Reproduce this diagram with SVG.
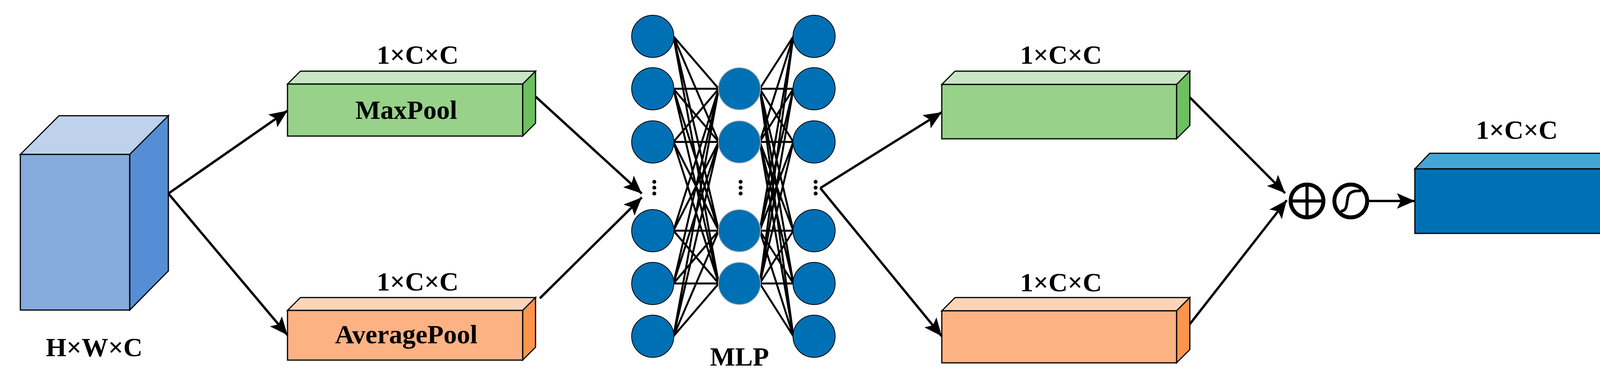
<svg xmlns="http://www.w3.org/2000/svg" width="4196" height="977" viewBox="0 0 4196 977">
<style>
.e{stroke:#000;stroke-width:3;stroke-linejoin:miter}
.t{font-family:"Liberation Serif",serif;font-weight:bold;font-size:68px;text-anchor:middle;fill:#000}
.c{stroke:#000;stroke-width:6;fill:none}
.n{fill:#0070B5;stroke:#000;stroke-width:2}
.nm{fill:#0070B5;stroke:#bbb;stroke-width:2}
.w{stroke:#000;stroke-width:5}
</style>
<defs>
<marker id="a" markerUnits="userSpaceOnUse" markerWidth="50" markerHeight="40" refX="46" refY="20" orient="auto"><path d="M0,0 L46,20 L0,40 L10,20 Z" fill="#000"/></marker>
</defs>
<rect width="4196" height="977" fill="#fff"/>
<g id="input">
<polygon class="e" points="52,395 151,296 431,296 332,395" fill="#BED2EE"/>
<polygon class="e" points="332,395 431,296 431,693 332,793" fill="#558ED5"/>
<rect class="e" x="52" y="395" width="280" height="398" fill="#86AADC"/>
<text class="t" x="241" y="911">H×W×C</text>
</g>
<g id="maxpool">
<polygon class="e" points="736,215 769,182 1371,182 1338,215" fill="#C8E6C4"/>
<polygon class="e" points="1338,215 1371,182 1371,315 1338,348" fill="#6DC05E"/>
<rect class="e" x="736" y="215" width="602" height="133" fill="#97D18A"/>
<text class="t" x="1069" y="163">1×C×C</text>
<text class="t" x="1040" y="304">MaxPool</text>
</g>
<g id="avgpool">
<polygon class="e" points="736,794 769,761 1371,761 1338,794" fill="#FED4B9"/>
<polygon class="e" points="1338,794 1371,761 1371,888 1338,921" fill="#FD944C"/>
<rect class="e" x="736" y="794" width="602" height="127" fill="#FDB284"/>
<text class="t" x="1069" y="743">1×C×C</text>
<text class="t" x="1040" y="878">AveragePool</text>
</g>
<g id="mlp">
<g class="w">
<path d="M1724,93 L1840,227 M1724,93 L1840,363 M1724,93 L1840,590 M1724,93 L1840,725
M1724,227 L1840,227 M1724,227 L1840,363 M1724,227 L1840,590 M1724,227 L1840,725
M1724,363 L1840,227 M1724,363 L1840,363 M1724,363 L1840,590 M1724,363 L1840,725
M1724,590 L1840,227 M1724,590 L1840,363 M1724,590 L1840,590 M1724,590 L1840,725
M1724,725 L1840,227 M1724,725 L1840,363 M1724,725 L1840,590 M1724,725 L1840,725
M1724,860 L1840,227 M1724,860 L1840,363 M1724,860 L1840,590 M1724,860 L1840,725
M1945,227 L2031,93 M1945,227 L2031,227 M1945,227 L2031,363 M1945,227 L2031,590 M1945,227 L2031,725 M1945,227 L2031,860
M1945,363 L2031,93 M1945,363 L2031,227 M1945,363 L2031,363 M1945,363 L2031,590 M1945,363 L2031,725 M1945,363 L2031,860
M1945,590 L2031,93 M1945,590 L2031,227 M1945,590 L2031,363 M1945,590 L2031,590 M1945,590 L2031,725 M1945,590 L2031,860
M1945,725 L2031,93 M1945,725 L2031,227 M1945,725 L2031,363 M1945,725 L2031,590 M1945,725 L2031,725 M1945,725 L2031,860"/>
</g>
<circle class="n" cx="1671" cy="93" r="54"/><circle class="n" cx="1671" cy="227" r="54"/><circle class="n" cx="1671" cy="363" r="54"/>
<circle class="n" cx="1671" cy="590" r="54"/><circle class="n" cx="1671" cy="725" r="54"/><circle class="n" cx="1671" cy="860" r="54"/>
<circle class="nm" cx="1893" cy="227" r="54"/><circle class="nm" cx="1893" cy="363" r="54"/><circle class="nm" cx="1893" cy="590" r="54"/><circle class="nm" cx="1893" cy="725" r="54"/>
<circle class="n" cx="2084" cy="93" r="54"/><circle class="n" cx="2084" cy="227" r="54"/><circle class="n" cx="2084" cy="363" r="54"/>
<circle class="n" cx="2084" cy="590" r="54"/><circle class="n" cx="2084" cy="725" r="54"/><circle class="n" cx="2084" cy="860" r="54"/>
<g fill="#000">
<circle cx="1675" cy="465" r="5"/><circle cx="1675" cy="480" r="5"/><circle cx="1675" cy="495" r="5"/>
<circle cx="1896" cy="465" r="5"/><circle cx="1896" cy="480" r="5"/><circle cx="1896" cy="495" r="5"/>
<circle cx="2088" cy="465" r="5"/><circle cx="2088" cy="480" r="5"/><circle cx="2088" cy="495" r="5"/>
</g>
<text class="t" x="1893" y="935">MLP</text>
</g>
<g id="fc1">
<polygon class="e" points="2411,216 2445,182 3046,182 3012,216" fill="#C8E6C4"/>
<polygon class="e" points="3012,216 3046,182 3046,321 3012,355" fill="#6DC05E"/>
<rect class="e" x="2411" y="216" width="601" height="139" fill="#97D18A"/>
<text class="t" x="2716" y="163">1×C×C</text>
</g>
<g id="fc2">
<polygon class="e" points="2411,795 2445,761 3046,761 3012,795" fill="#FED4B9"/>
<polygon class="e" points="3012,795 3046,761 3046,894 3012,928" fill="#FD944C"/>
<rect class="e" x="2411" y="795" width="601" height="133" fill="#FDB284"/>
<text class="t" x="2716" y="745">1×C×C</text>
</g>
<g id="add">
<circle cx="3346" cy="514" r="42" fill="#fff" stroke="#000" stroke-width="10"/>
<path d="M3346,476 V552 M3308,514 H3384" stroke="#000" stroke-width="8"/>
</g>
<g id="sigmoid">
<circle cx="3458" cy="514" r="42" fill="#fff" stroke="#000" stroke-width="10"/>
<path d="M3432,540 C3452,540 3446,514 3452,500 C3458,488 3470,488 3484,488" fill="none" stroke="#000" stroke-width="7"/>
</g>
<g id="output">
<polygon class="e" points="3622,432 3660,392 4140,392 4102,432" fill="#44A6D8"/>
<polygon class="e" points="4102,432 4140,392 4140,556 4102,597" fill="#005A8F"/>
<rect class="e" x="3622" y="432" width="480" height="165" fill="#0070B5"/>
<text class="t" x="3883" y="355">1×C×C</text>
</g>
<g id="connectors">
<path class="c" d="M431,495 L736,283" marker-end="url(#a)"/>
<path class="c" d="M431,495 L736,857" marker-end="url(#a)"/>
<path class="c" d="M1371,247 L1643,495" marker-end="url(#a)"/>
<path class="c" d="M1382,763 L1643,505" marker-end="url(#a)"/>
<path class="c" d="M2100,481 L2411,287" marker-end="url(#a)"/>
<path class="c" d="M2100,481 L2411,860" marker-end="url(#a)"/>
<path class="c" d="M3046,249 L3290,494" marker-end="url(#a)"/>
<path class="c" d="M3046,829 L3294,512" marker-end="url(#a)"/>
<path class="c" d="M3500,514 L3622,514" marker-end="url(#a)"/>
</g>
</svg>
